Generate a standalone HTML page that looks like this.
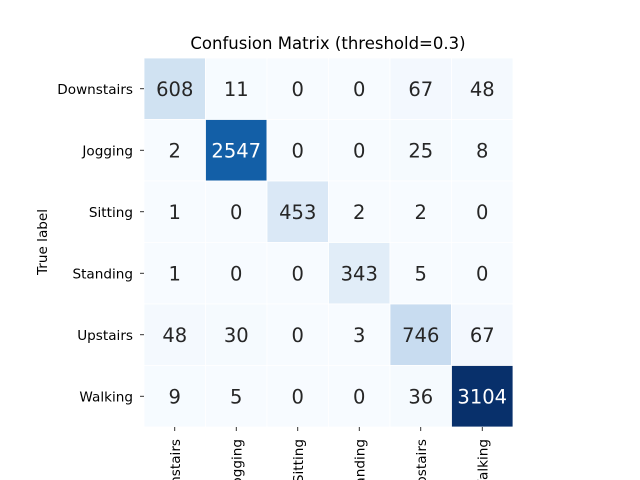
<!DOCTYPE html>
<html><head><meta charset="utf-8"><style>html,body{margin:0;background:#fff;width:640px;height:480px;overflow:hidden}svg{display:block;font-family:"DejaVu Sans","Liberation Sans",sans-serif}</style></head>
<body>
<svg id="c" width="640" height="480" style="overflow:hidden">
</svg>
<script>
const labels=["Downstairs","Jogging","Sitting","Standing","Upstairs","Walking"];
const row0=[608,11,0,0,67,48];
const row1=[2,2547,0,0,25,8];
const row2=[1,0,453,2,2,0];
const row3=[1,0,0,343,5,0];
const row4=[48,30,0,3,746,67];
const row5=[9,5,0,0,36,3104];
const matrix=[row0,row1,row2,row3,row4,row5];
const title="Confusion Matrix (threshold=0.3)";
const NS="http://www.w3.org/2000/svg",svg=document.getElementById('c');
const X0=144,Y0=58,W=369,n=labels.length,cs=W/n;
const xs=j=>X0+j*cs, ys=i=>Y0+i*cs;
const stops=["#f7fbff","#deebf7","#c6dbef","#9ecae1","#6baed6","#4292c6","#2171b5","#08519c","#08306b"].map(h=>[1,3,5].map(k=>parseInt(h.substr(k,2),16)));
function cmap(t){t=Math.max(0,Math.min(1,t))*8;const k=Math.min(7,Math.floor(t)),f=t-k;return stops[k].map((v,i)=>Math.round(v+(stops[k+1][i]-v)*f));}
const vmax=Math.max(...matrix.flat()),vmin=Math.min(...matrix.flat());
function el(tag,a,txt){const e=document.createElementNS(NS,tag);for(const k in a)e.setAttribute(k,a[k]);if(txt!==undefined)e.textContent=txt;svg.appendChild(e);return e;}
let t=el('text',{x:328,y:49,'text-anchor':'middle','font-size':16.5,fill:'#000'},title);

matrix.forEach((row,i)=>row.forEach((v,j)=>{
 const c=cmap((v-vmin)/(vmax-vmin));
 const r=el('rect',{x:xs(j),y:ys(i),width:cs,height:cs,fill:`rgb(${c})`,stroke:'#fff','stroke-width':0.8});
 
 const lum=(0.299*c[0]+0.587*c[1]+0.114*c[2])/255;
 const tx=el('text',{x:xs(j)+cs/2,y:ys(i)+cs/2+7,'text-anchor':'middle','font-size':19.5,fill:lum<0.5?'#fff':'#262626'},v);
 
}));
labels.forEach((l,i)=>{
 const cy=ys(i)+cs/2;
 el('line',{x1:140,x2:144,y1:cy,y2:cy,stroke:'#000','stroke-width':0.8});
 const a=el('text',{x:133,y:cy+5,'text-anchor':'end','font-size':13.6},l);
 
 const cx=xs(i)+cs/2;
 el('line',{x1:cx,x2:cx,y1:427,y2:431,stroke:'#000','stroke-width':0.8});
 const b=el('text',{x:0,y:0,'text-anchor':'end','font-size':13.6,transform:`translate(${cx+5},439) rotate(-90)`},l);
 
});
const yt=el('text',{x:0,y:0,'text-anchor':'middle','font-size':13.6,transform:'translate(47,242) rotate(-90)'},'True label');

</script>
</body></html>
